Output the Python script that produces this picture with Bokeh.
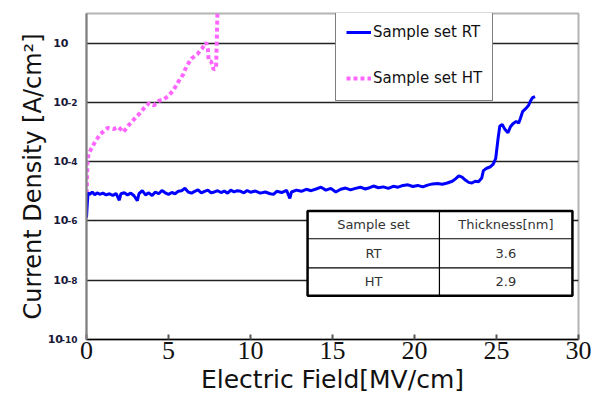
from bokeh.plotting import figure
from bokeh.models import FixedTicker, Legend, LegendItem, ColumnDataSource, LogAxis
from bokeh.core.properties import value
from bokeh.embed import file_html
from bokeh.resources import INLINE

# ---- data ----
rt_field = [0.00, 0.05, 0.10, 0.20, 0.35, 0.50, 0.65, 0.80, 1.00, 1.20, 1.40, 1.60, 1.80, 2.00, 2.10,
            2.30, 2.50, 2.70, 2.90, 3.10, 3.20, 3.40, 3.60, 3.80, 4.00, 4.20, 4.40, 4.60, 4.80, 5.00,
            5.20, 5.40, 5.60, 5.80, 6.00, 6.20, 6.40, 6.60, 6.80, 7.00, 7.20, 7.40, 7.60, 7.80, 8.00,
            8.20, 8.40, 8.60, 8.80, 9.00, 9.20, 9.40, 9.60, 9.80, 10.0, 10.3, 10.6, 10.9, 11.2, 11.4,
            11.6, 11.9, 12.2, 12.4, 12.5, 12.8, 13.1, 13.4, 13.7, 14.0, 14.3, 14.6, 14.9, 15.2, 15.5,
            15.8, 16.1, 16.4, 16.7, 17.0, 17.3, 17.5, 17.8, 18.1, 18.4, 18.7, 19.0, 19.3, 19.6, 19.9,
            20.2, 20.5, 20.8, 21.1, 21.4, 21.7, 22.0, 22.3, 22.5, 22.7, 22.9, 23.1, 23.3, 23.5, 23.7,
            23.9, 24.1, 24.2, 24.4, 24.6, 24.8, 24.95, 25.1, 25.2, 25.35, 25.5, 25.7, 25.85, 26.0, 26.2,
            26.35, 26.45, 26.6, 26.8, 26.95, 27.1, 27.2, 27.35]
rt_density = [1.3e-6, 4.0e-6, 8.9e-6, 7.9e-6, 9.5e-6, 7.6e-6, 8.9e-6, 7.9e-6, 8.7e-6, 7.6e-6, 8.3e-6, 7.2e-6, 8.5e-6, 5.0e-6, 8.3e-6,
              8.9e-6, 7.6e-6, 8.7e-6, 7.1e-6, 4.8e-6, 8.3e-6, 1.05e-5, 7.6e-6, 8.9e-6, 7.2e-6, 9.5e-6, 8.3e-6, 1.07e-5, 8.9e-6, 7.9e-6,
              9.1e-6, 8.3e-6, 1.0e-5, 1.05e-5, 1.26e-5, 9.5e-6, 8.7e-6, 1.0e-5, 1.12e-5, 8.9e-6, 1.0e-5, 1.1e-5, 8.9e-6, 9.5e-6, 1.05e-5,
              9.1e-6, 1.02e-5, 8.7e-6, 1.1e-5, 9.5e-6, 1.05e-5, 1.0e-5, 8.9e-6, 1.07e-5, 9.3e-6, 1.02e-5, 8.7e-6, 9.5e-6, 8.3e-6, 7.9e-6,
              1.0e-5, 9.1e-6, 1.07e-5, 5.8e-6, 9.5e-6, 1.1e-5, 1.0e-5, 1.17e-5, 1.05e-5, 1.2e-5, 1.38e-5, 1.1e-5, 1.26e-5, 9.5e-6, 1.17e-5,
              1.29e-5, 1.12e-5, 1.26e-5, 1.38e-5, 1.2e-5, 1.35e-5, 1.51e-5, 1.32e-5, 1.41e-5, 1.26e-5, 1.48e-5, 1.38e-5, 1.58e-5, 1.66e-5, 1.45e-5,
              1.58e-5, 1.41e-5, 1.62e-5, 1.78e-5, 1.82e-5, 1.74e-5, 1.91e-5, 2.19e-5, 2.63e-5, 3.31e-5, 3.02e-5, 2.4e-5, 2.0e-5, 1.91e-5, 2.19e-5,
              2.09e-5, 2.82e-5, 5.0e-5, 6.0e-5, 6.6e-5, 8.3e-5, 1.26e-4, 6.3e-4, 1.58e-3, 1.82e-3, 1.26e-3, 9.5e-4, 1.51e-3, 1.91e-3, 2.29e-3,
              2.0e-3, 2.82e-3, 5.0e-3, 6.3e-3, 7.9e-3, 1.2e-2, 1.45e-2, 1.58e-2]

ht_field = [0.00, 0.03, 0.06, 0.12, 0.30, 0.55, 0.85, 1.30, 1.65, 1.95, 2.25, 2.60, 2.90, 3.20, 3.50,
            3.80, 4.10, 4.40, 4.70, 5.00, 5.30, 5.60, 5.90, 6.10, 6.40, 6.75, 7.05, 7.30, 7.40, 7.45,
            7.60, 7.75, 7.90, 7.95, 8.00]
ht_density = [5.0e-6, 2.5e-5, 1.0e-4, 1.8e-4, 2.8e-4, 5.0e-4, 8.5e-4, 1.38e-3, 1.26e-3, 1.48e-3, 1.0e-3, 1.78e-3, 2.7e-3, 4.0e-3, 6.3e-3,
              9.3e-3, 7.9e-3, 1.12e-2, 1.26e-2, 1.66e-2, 2.6e-2, 5.0e-2, 8.9e-2, 0.166, 0.30, 0.42, 0.66, 1.05, 0.63, 0.25,
              0.24, 0.13, 0.14, 1.6, 30.0]

series_labels = ["Sample set RT", "Sample set HT"]
x_ticks = [0, 5, 10, 15, 20, 25, 30]
y_ticks = [1e-10, 1e-8, 1e-6, 1e-4, 1e-2, 1e0]
y_tick_base = ["10\u2002", "10", "10", "10", "10", "10"]
y_tick_exponents = ["-10", "-8", "-6", "-4", "-2", ""]

table_header = ["Sample set", "Thickness[nm]"]
table_samples = ["RT", "HT"]
table_thickness = ["3.6", "2.9"]

# ---- figure ----
p = figure(width=603, height=408, x_range=(0, 30), y_range=(1e-10, 1e1), y_axis_type="log",
           output_backend="svg", toolbar_location=None,
           min_border_left=86, min_border_right=25, min_border_top=13, min_border_bottom=69,
           background_fill_color="white", border_fill_color="white")

p.outline_line_color = "#b4b4b4"
p.outline_line_width = 2

# x axis
p.xaxis.ticker = FixedTicker(ticks=x_ticks)
p.xaxis.axis_line_color = "black"
p.xaxis.axis_line_width = 1.5
p.xaxis.major_tick_in = 5
p.xaxis.major_tick_out = 0
p.xaxis.major_tick_line_color = "#555555"
p.xaxis.major_tick_line_width = 2
p.xaxis.minor_tick_line_color = None
p.xaxis.major_label_text_font = "Liberation Sans Narrow"
p.xaxis.major_label_text_font_size = "26px"
p.xaxis.major_label_text_color = "#111111"
p.xaxis.major_label_standoff = 2
p.xaxis.axis_label = "Electric Field[MV/cm]"
p.xaxis.axis_label_text_font = "DejaVu Sans"
p.xaxis.axis_label_text_font_size = "25px"
p.xaxis.axis_label_text_font_style = "normal"
p.xaxis.axis_label_text_color = "#111111"
p.xaxis.axis_label_standoff = 3

# y axis, inner: exponents (superscripts) next to the frame
ya = p.yaxis[0]
ya.ticker = FixedTicker(ticks=y_ticks)
ya.major_label_overrides = {t: e for t, e in zip(y_ticks, y_tick_exponents)}
ya.axis_line_color = "#808080"
ya.axis_line_width = 2
ya.major_tick_in = 0
ya.major_tick_out = 0
ya.minor_tick_line_color = None
ya.major_label_standoff = 9
ya.major_label_text_baseline = "bottom"
ya.major_label_text_font = "DejaVu Sans"
ya.major_label_text_font_size = "9px"
ya.major_label_text_font_style = "bold"
ya.major_label_text_color = "#1a1a3a"

# y axis, outer: base "10" and the axis title
yb = LogAxis(ticker=FixedTicker(ticks=y_ticks))
yb.major_label_overrides = {t: b for t, b in zip(y_ticks, y_tick_base)}
yb.axis_line_color = None
yb.major_tick_line_color = None
yb.minor_tick_line_color = None
yb.major_label_standoff = -16
yb.major_label_text_font = "DejaVu Sans"
yb.major_label_text_font_size = "11px"
yb.major_label_text_font_style = "bold"
yb.major_label_text_color = "#1a1a3a"
yb.axis_label = "Current Density [A/cm\u00b2]"
yb.axis_label_text_font = "DejaVu Sans"
yb.axis_label_text_font_size = "24px"
yb.axis_label_text_font_style = "normal"
yb.axis_label_text_color = "#111111"
yb.axis_label_standoff = -2
p.add_layout(yb, "left")

p.xgrid.visible = False
p.ygrid.grid_line_color = "#222222"
p.ygrid.grid_line_width = 1.5

# series
rt_src = ColumnDataSource(dict(x=rt_field, y=rt_density))
ht_src = ColumnDataSource(dict(x=ht_field, y=ht_density))
r_ht = p.line("x", "y", source=ht_src, line_color="#ff66ff", line_width=4, line_dash="4 3")
r_rt = p.line("x", "y", source=rt_src, line_color="#0000ff", line_width=3)

# table inset
tx = [13.48, 21.52, 29.63]
ty = [10 ** -5.66, 10 ** -6.60, 10 ** -7.58, 10 ** -8.52]
p.quad(left=[tx[0]], right=[tx[2]], top=[ty[0]], bottom=[ty[3]],
       fill_color="white", line_color="black", line_width=2.5)
p.segment(x0=[tx[0], tx[0], tx[1]], y0=[ty[1], ty[2], ty[0]],
          x1=[tx[2], tx[2], tx[1]], y1=[ty[1], ty[2], ty[3]],
          line_color="black", line_width=1.2)
cx = [(tx[0] + tx[1]) / 2, (tx[1] + tx[2]) / 2]
cy = [10 ** -6.13, 10 ** -7.09, 10 ** -8.05]
cells_x = [cx[0], cx[1], cx[0], cx[1], cx[0], cx[1]]
cells_y = [cy[0], cy[0], cy[1], cy[1], cy[2], cy[2]]
cells_t = [table_header[0], table_header[1], table_samples[0], table_thickness[0],
           table_samples[1], table_thickness[1]]
p.text(x=cells_x, y=cells_y, text=cells_t, text_align="center", text_baseline="middle",
       text_font=value("DejaVu Sans"), text_font_size="13px", text_color="#333333")

legend = Legend(items=[LegendItem(label=series_labels[0], renderers=[r_rt]),
                       LegendItem(label=series_labels[1], renderers=[r_ht])],
                location=(249, 238), padding=10, spacing=22, glyph_height=24, glyph_width=25,
                label_standoff=2, label_text_font="DejaVu Sans", label_text_font_size="15px",
                label_text_color="#111111", border_line_color="black", border_line_width=1,
                background_fill_color="white", background_fill_alpha=1.0, margin=0)
p.add_layout(legend)

open("out.html", "w").write(file_html(p, INLINE))
